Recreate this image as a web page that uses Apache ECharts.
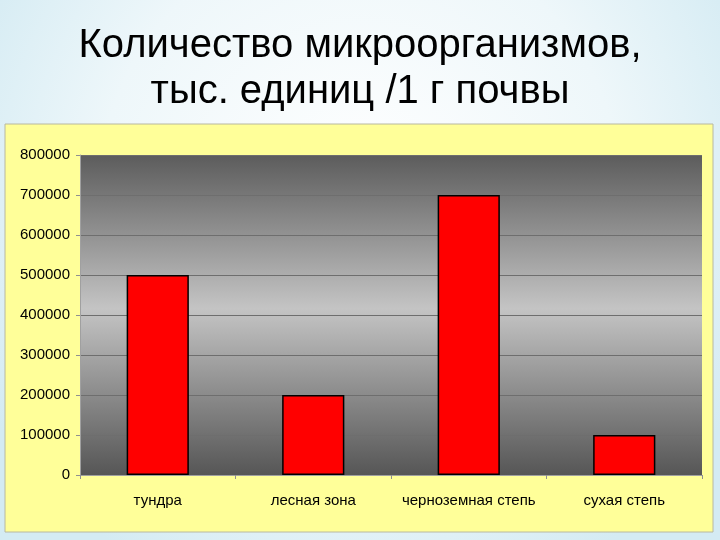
<!DOCTYPE html>
<html><head><meta charset="utf-8">
<script src="https://cdn.jsdelivr.net/npm/echarts@6/dist/echarts.min.js"></script>
<style>html,body{margin:0;padding:0;}#c{width:720px;height:540px;}</style>
</head><body><div id="c"></div>
<script>
const categories = ['тундра', 'лесная зона', 'черноземная степь', 'сухая степь'];
const values = [500000, 200000, 700000, 100000];
const yTicks = { min: 0, max: 800000, interval: 100000 };
const titleLines = ['Количество микроорганизмов,', 'тыс. единиц /1 г почвы'];

const chart = echarts.init(document.getElementById('c'), null, {renderer: 'canvas'});
chart.setOption({
  backgroundColor: {
    type: 'radial', x: 0.5, y: 0.35, r: 0.8,
    colorStops: [{offset: 0, color: '#ffffff'}, {offset: 0.6, color: '#eef7fa'}, {offset: 1, color: '#d4ebf3'}]
  },
  animation: false,
  title: {
    text: titleLines.join('\n'),
    left: 'center', top: 18,
    textStyle: { fontFamily: 'Liberation Sans', fontSize: 40, fontWeight: 'normal', color: '#000', lineHeight: 46 }
  },
  graphic: [{
    type: 'rect', z: -1, silent: true,
    shape: { x: 5, y: 124, width: 708, height: 408 },
    style: { fill: '#ffff99', stroke: '#b8b8a0', lineWidth: 1 }
  }],
  grid: {
    left: 80, right: 18, top: 155, bottom: 65, show: true,
    borderWidth: 0,
    backgroundColor: {
      type: 'linear', x: 0, y: 0, x2: 0, y2: 1,
      colorStops: [
        {offset: 0, color: '#5c5c5c'},
        {offset: 0.48, color: '#c4c4c4'},
        {offset: 1, color: '#565656'}
      ]
    }
  },
  xAxis: {
    type: 'category', data: categories,
    axisLine: { show: true, lineStyle: { color: '#a0a0a0', width: 1 } },
    axisTick: { show: true, length: 4, lineStyle: { color: '#909090' } },
    axisLabel: { color: '#000', fontFamily: 'Liberation Sans', fontSize: 15, margin: 18, interval: 0 }
  },
  yAxis: {
    type: 'value', min: yTicks.min, max: yTicks.max, interval: yTicks.interval,
    axisLine: { show: true, lineStyle: { color: '#a0a0a0' } },
    axisTick: { show: true, length: 4, lineStyle: { color: '#909090' } },
    splitLine: { show: true, lineStyle: { color: '#6e6e6e', width: 1 } },
    axisLabel: { color: '#000', fontFamily: 'Liberation Sans', fontSize: 15, margin: 10, formatter: v => String(v) }
  },
  series: [{
    type: 'bar', data: values, barWidth: '40%',
    itemStyle: { color: '#ff0000', borderColor: '#000000', borderWidth: 1.5 }
  }]
});
</script></body></html>
